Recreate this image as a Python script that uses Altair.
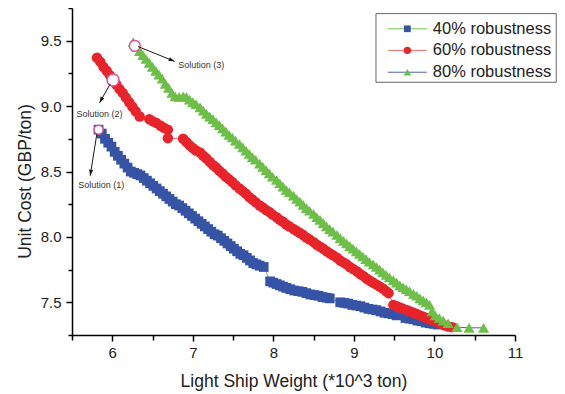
import altair as alt
import pandas as pd

SERIES = ["40% robustness", "60% robustness", "80% robustness"]

BLUE_X = [5.83, 5.87, 5.91, 5.95, 5.99, 6.03, 6.07, 6.11, 6.15, 6.19, 6.23, 6.27, 6.31, 6.35, 6.39,
          6.43, 6.47, 6.51, 6.55, 6.59, 6.63, 6.67, 6.71, 6.75, 6.79, 6.83, 6.87, 6.91, 6.95, 6.99,
          7.03, 7.07, 7.11, 7.15, 7.19, 7.23, 7.27, 7.31, 7.35, 7.39, 7.43, 7.47, 7.51, 7.55, 7.59,
          7.63, 7.67, 7.71, 7.75, 7.79, 7.83, 7.88, 7.96, 8.00, 8.04, 8.08, 8.12, 8.16, 8.21, 8.26,
          8.31, 8.36, 8.41, 8.46, 8.51, 8.56, 8.61, 8.66, 8.70, 8.83, 8.88, 8.93, 8.98, 9.03, 9.08,
          9.13, 9.18, 9.23, 9.28, 9.33, 9.38, 9.43, 9.48, 9.53, 9.64, 9.69, 9.74, 9.79, 9.84, 9.89,
          9.94, 9.99, 10.04]
BLUE_Y = [8.82, 8.79, 8.75, 8.72, 8.69, 8.65, 8.62, 8.59, 8.56, 8.53, 8.50, 8.49, 8.48, 8.47, 8.45,
          8.43, 8.41, 8.39, 8.37, 8.35, 8.33, 8.31, 8.29, 8.27, 8.25, 8.24, 8.22, 8.20, 8.18, 8.16,
          8.14, 8.12, 8.10, 8.08, 8.06, 8.04, 8.02, 8.01, 7.99, 7.97, 7.95, 7.93, 7.91, 7.89, 7.87,
          7.86, 7.84, 7.82, 7.80, 7.79, 7.78, 7.77, 7.66, 7.65, 7.64, 7.63, 7.62, 7.61, 7.60, 7.59,
          7.585, 7.58, 7.57, 7.56, 7.555, 7.55, 7.54, 7.535, 7.53, 7.50, 7.495, 7.49, 7.48, 7.475, 7.47,
          7.46, 7.45, 7.445, 7.44, 7.43, 7.42, 7.415, 7.41, 7.40, 7.38, 7.375, 7.37, 7.36, 7.355, 7.345,
          7.34, 7.335, 7.33]

RED_X = [5.81, 5.85, 5.89, 5.93, 5.97, 6.01, 6.05, 6.09, 6.13, 6.17, 6.21, 6.25, 6.29, 6.34,
         6.46, 6.50, 6.55, 6.60, 6.64, 6.69, 6.69,
         6.88, 6.92, 6.96, 7.00, 7.04, 7.09, 7.13, 7.17, 7.21, 7.25, 7.29, 7.33, 7.37, 7.41, 7.45,
         7.49, 7.53, 7.58, 7.62, 7.66, 7.70, 7.74, 7.78, 7.83, 7.87, 7.91, 7.95, 7.99, 8.04, 8.08,
         8.12, 8.16, 8.20, 8.25, 8.29, 8.33, 8.37, 8.41, 8.45, 8.50, 8.54, 8.58, 8.62, 8.66, 8.70,
         8.74, 8.79, 8.83, 8.87, 8.91, 8.95, 8.99, 9.04, 9.08, 9.12, 9.16, 9.20, 9.24, 9.28, 9.32,
         9.36, 9.40, 9.43,
         9.49, 9.53, 9.57, 9.61, 9.66, 9.70, 9.74, 9.78, 9.82, 9.86, 9.90, 9.94, 9.98, 10.03, 10.07,
         10.12, 10.17, 10.22]
RED_Y = [9.37, 9.34, 9.30, 9.27, 9.235, 9.20, 9.165, 9.13, 9.10, 9.065, 9.03, 8.995, 8.96, 8.92,
         8.90, 8.885, 8.87, 8.85, 8.835, 8.82, 8.755,
         8.75, 8.725, 8.70, 8.68, 8.66, 8.645, 8.62, 8.60, 8.575, 8.55, 8.53, 8.505, 8.485, 8.46, 8.44,
         8.42, 8.395, 8.37, 8.35, 8.33, 8.305, 8.285, 8.265, 8.24, 8.225, 8.205, 8.19, 8.17, 8.15, 8.13,
         8.115, 8.095, 8.08, 8.06, 8.045, 8.03, 8.015, 7.995, 7.98, 7.96, 7.94, 7.925, 7.91, 7.89, 7.875,
         7.86, 7.84, 7.82, 7.805, 7.79, 7.77, 7.755, 7.735, 7.715, 7.70, 7.68, 7.665, 7.65, 7.635, 7.62,
         7.605, 7.585, 7.57,
         7.48, 7.47, 7.46, 7.45, 7.44, 7.43, 7.42, 7.41, 7.40, 7.39, 7.38, 7.37, 7.36, 7.35, 7.34,
         7.325, 7.315, 7.31]

GREEN_X = [6.26, 6.30, 6.34, 6.38, 6.42, 6.46, 6.50, 6.54, 6.58, 6.62, 6.66, 6.70, 6.74, 6.78, 6.83,
           6.88, 6.92, 6.96, 7.00, 7.04, 7.09, 7.13, 7.17, 7.21, 7.25, 7.29, 7.33, 7.37, 7.41, 7.45,
           7.49, 7.53, 7.58, 7.62, 7.66, 7.70, 7.74, 7.78, 7.83, 7.87, 7.91, 7.95, 7.99, 8.04, 8.08,
           8.12, 8.16, 8.20, 8.25, 8.29, 8.33, 8.37, 8.41, 8.45, 8.50, 8.54, 8.58, 8.62, 8.66, 8.70,
           8.74, 8.79, 8.83, 8.87, 8.91, 8.95, 8.99, 9.03, 9.07, 9.11, 9.15, 9.19, 9.24, 9.28, 9.32,
           9.36, 9.40, 9.44, 9.49, 9.53, 9.57, 9.61, 9.65, 9.69, 9.74, 9.78, 9.82, 9.86, 9.90, 9.94,
           9.97, 10.01, 10.06, 10.11, 10.17, 10.28, 10.43, 10.61]
GREEN_Y = [9.49, 9.455, 9.42, 9.39, 9.36, 9.33, 9.30, 9.27, 9.24, 9.21, 9.17, 9.14, 9.10, 9.075, 9.07,
           9.075, 9.07, 9.05, 9.03, 9.015, 8.99, 8.965, 8.94, 8.92, 8.90, 8.875, 8.855, 8.83, 8.805, 8.78,
           8.76, 8.735, 8.71, 8.685, 8.66, 8.635, 8.61, 8.59, 8.56, 8.535, 8.51, 8.485, 8.46, 8.435, 8.41,
           8.385, 8.36, 8.34, 8.315, 8.29, 8.27, 8.245, 8.22, 8.20, 8.175, 8.15, 8.13, 8.105, 8.08, 8.06,
           8.04, 8.015, 7.99, 7.97, 7.95, 7.93, 7.91, 7.89, 7.87, 7.85, 7.83, 7.81, 7.79, 7.77, 7.75,
           7.73, 7.71, 7.69, 7.67, 7.65, 7.63, 7.615, 7.60, 7.585, 7.565, 7.55, 7.53, 7.515, 7.50, 7.48,
           7.43, 7.40, 7.38, 7.36, 7.34, 7.31, 7.305, 7.305]

SOLUTION_LABELS = ["Solution (1)", "Solution (2)", "Solution (3)"]
SOLUTION_X = [5.83, 6.01, 6.28]
SOLUTION_Y = [8.82, 9.20, 9.46]

X_TICKS = [5.5, 6, 6.5, 7, 7.5, 8, 8.5, 9, 9.5, 10, 10.5, 11]
Y_TICKS = [7.25, 7.5, 7.75, 8.0, 8.25, 8.5, 8.75, 9.0, 9.25, 9.5, 9.75]

# ---- styles / layout ----
MARKER_COLORS = ["#3653a6", "#e8232a", "#6cbf47"]
LINE_COLORS = ["#74c255", "#f06a6a", "#4d62b8"]
SHAPES = ["square", "circle", "triangle-up"]
SIZES = [95, 125, 130]
LEG_SIZES = [45, 58, 80]
FONT = "Liberation Sans, Arial, sans-serif"
TXT = "#222222"

# annotation layout (data coordinates)
ARROW_X = [5.808, 5.975, 6.318]
ARROW_Y = [8.785, 9.170, 9.456]
ARROW_X2 = [5.726, 5.842, 6.774]
ARROW_Y2 = [8.468, 9.025, 9.342]
ARROW_ANGLE = [189, 209, 112]
LABEL_X = [5.863, 5.842, 7.106]
LABEL_Y = [8.397, 8.942, 9.312]

LEG_X1, LEG_X2, LEG_Y1, LEG_Y2 = 9.274, 11.512, 9.707, 9.182
LEG_ROW_Y = [9.591, 9.426, 9.259]
LEG_LINE_X1, LEG_LINE_X2, LEG_MARK_X, LEG_TEXT_X = 9.421, 9.906, 9.664, 9.98

rows = []
for s, xs, ys in zip(SERIES, [BLUE_X, RED_X, GREEN_X], [BLUE_Y, RED_Y, GREEN_Y]):
    for i, (a, b) in enumerate(zip(xs, ys)):
        rows.append({"series": s, "x": a, "y": b, "idx": i})
df = pd.DataFrame(rows)

sol_df = pd.DataFrame({"x": SOLUTION_X, "y": SOLUTION_Y, "sz": [81, 144, 118]})
arrow_df = pd.DataFrame({"x": ARROW_X, "y": ARROW_Y, "x2": ARROW_X2, "y2": ARROW_Y2,
                         "angle": ARROW_ANGLE})
label_df = pd.DataFrame({"x": LABEL_X, "y": LABEL_Y, "text": SOLUTION_LABELS})
leg_df = pd.DataFrame({"series": SERIES, "y": LEG_ROW_Y,
                       "x1": [LEG_LINE_X1] * 3, "x2": [LEG_LINE_X2] * 3,
                       "xm": [LEG_MARK_X] * 3, "xt": [LEG_TEXT_X] * 3})
box_df = pd.DataFrame({"x": [LEG_X1], "x2": [LEG_X2], "y": [LEG_Y1], "y2": [LEG_Y2]})

xscale = alt.Scale(domain=[5.5, 11], nice=False, zero=False)
yscale = alt.Scale(domain=[7.25, 9.75], nice=False, zero=False)

xaxis = alt.Axis(
    values=X_TICKS, format=".0f",
    labelExpr="datum.value % 1 === 0 ? datum.label : ''",
    tickSize={"condition": {"test": "datum.value % 1 === 0", "value": 6}, "value": 5},
    title="Light Ship Weight (*10^3 ton)", grid=False,
    labelOverlap=False, labelFlush=False, labelPadding=4,
    titleY=51, titleBaseline="alphabetic",
)
ytest = "abs(datum.value*2 - round(datum.value*2)) < 0.001"
yaxis = alt.Axis(
    values=Y_TICKS, format=".1f",
    labelExpr=ytest + " ? datum.label : ''",
    tickSize={"condition": {"test": ytest, "value": 6}, "value": 4},
    title="Unit Cost (GBP/ton)", grid=False,
    labelOverlap=False, labelFlush=False, labelPadding=5,
    titleAngle=270, titleX=-42, titleY=173, titleAlign="center", titleBaseline="alphabetic",
)

X = alt.X("x:Q", scale=xscale, axis=xaxis)
Y = alt.Y("y:Q", scale=yscale, axis=yaxis)

lines = alt.Chart(df).mark_line(strokeWidth=1).encode(
    x=X, y=Y,
    stroke=alt.Stroke("series:N", scale=alt.Scale(domain=SERIES, range=LINE_COLORS), legend=None),
    order="idx:Q",
)
points = alt.Chart(df).mark_point(filled=True, opacity=1, strokeWidth=0).encode(
    x=X, y=Y,
    color=alt.Color("series:N", scale=alt.Scale(domain=SERIES, range=MARKER_COLORS), legend=None),
    shape=alt.Shape("series:N", scale=alt.Scale(domain=SERIES, range=SHAPES), legend=None),
    size=alt.Size("series:O", scale=alt.Scale(domain=SERIES, range=SIZES), legend=None),
)
sols = alt.Chart(sol_df).mark_point(shape="circle", filled=False, fill="white", fillOpacity=1,
                                    stroke="#de4f96", strokeWidth=1.5, opacity=1).encode(
    x=X, y=Y, size=alt.Size("sz:Q", scale=None))
arrows = alt.Chart(arrow_df).mark_rule(color="#1a1a1a", strokeWidth=1).encode(
    x=X, y=Y, x2="x2:Q", y2="y2:Q")
heads = alt.Chart(arrow_df).mark_point(shape="M0,0L-0.45,1.3L0.45,1.3Z", filled=True,
                                       color="#1a1a1a", size=85, opacity=1).encode(
    x=alt.X("x2:Q", scale=xscale, axis=xaxis), y=alt.Y("y2:Q", scale=yscale, axis=yaxis),
    angle=alt.Angle("angle:Q", scale=None))
labels = alt.Chart(label_df).mark_text(fontSize=9, color="#333333", font=FONT,
                                       align="center", baseline="middle").encode(
    x=X, y=Y, text="text:N")

box = alt.Chart(box_df).mark_rect(fill="white", stroke="#666666", strokeWidth=1).encode(
    x=X, x2="x2:Q", y=Y, y2="y2:Q")
leg_lines = alt.Chart(leg_df).mark_rule(strokeWidth=1).encode(
    x=alt.X("x1:Q", scale=xscale, axis=xaxis), x2="x2:Q", y=Y,
    stroke=alt.Stroke("series:N", scale=alt.Scale(domain=SERIES, range=LINE_COLORS), legend=None))
leg_marks = alt.Chart(leg_df).mark_point(filled=True, opacity=1, strokeWidth=0).encode(
    x=alt.X("xm:Q", scale=xscale, axis=xaxis), y=Y,
    color=alt.Color("series:N", scale=alt.Scale(domain=SERIES, range=MARKER_COLORS), legend=None),
    shape=alt.Shape("series:N", scale=alt.Scale(domain=SERIES, range=SHAPES), legend=None),
    size=alt.Size("series:O", scale=alt.Scale(domain=SERIES, range=LEG_SIZES), legend=None))
leg_text = alt.Chart(leg_df).mark_text(fontSize=16.5, color=TXT, font=FONT, align="left",
                                       baseline="middle").encode(
    x=alt.X("xt:Q", scale=xscale, axis=xaxis), y=Y, text="series:N")

chart = alt.layer(
    lines, points, sols, arrows, heads, labels, box, leg_lines, leg_marks, leg_text
).resolve_scale(size="independent").properties(
    width=443, height=327,
    autosize=alt.AutoSizeParams(type="none"),
    padding={"left": 64, "top": 0, "right": 42, "bottom": 58},
    background="white",
).configure_view(stroke=None).configure_axis(
    domainColor="black", domainWidth=1.5, tickColor="black", tickWidth=1.5,
    labelFont=FONT, labelFontSize=15, labelColor=TXT,
    titleFont=FONT, titleFontSize=17.5, titleFontWeight="normal", titleColor=TXT,
)

chart.save("out.html", embed_options={"renderer": "svg", "actions": False})
